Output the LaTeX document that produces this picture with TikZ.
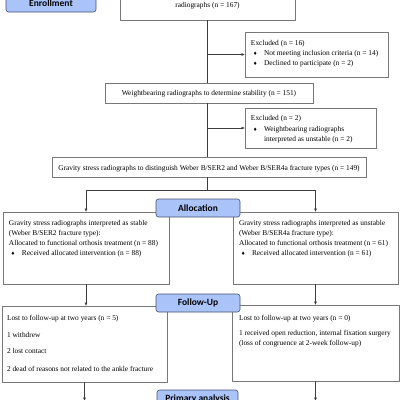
\documentclass[tikz,border=0pt]{standalone}
\usepackage{fontspec}
\setmainfont{Liberation Serif}
\newfontfamily\labfont{Carlito}
\newfontfamily\dvfont{DejaVu Sans}
\usetikzlibrary{arrows.meta}
\definecolor{labfill}{RGB}{170,196,250}
\definecolor{labdraw}{RGB}{70,80,110}
\definecolor{boxdraw}{RGB}{120,120,120}
\definecolor{linecol}{RGB}{60,60,60}
\newcommand{\bul}{{\dvfont\fontsize{4.8}{6}\selectfont\char"2666}}
\begin{document}
\begin{tikzpicture}[x=1pt,y=-1pt,
  boxnode/.style={draw=boxdraw,line width=0.7pt,inner sep=0pt,outer sep=0pt,anchor=north west,fill=white},
  labnode/.style={draw=labdraw,fill=labfill,rounded corners=2.5pt,line width=0.6pt,inner sep=0pt,outer sep=0pt,anchor=north west,font=\labfont\bfseries\fontsize{9.5}{11}\selectfont},
  txt/.style={anchor=base west,inner sep=0pt,outer sep=0pt,font=\fontsize{7.4}{9}\selectfont},
  ctxt/.style={anchor=base,inner sep=0pt,outer sep=0pt,font=\fontsize{7.4}{9}\selectfont},
  bulnode/.style={anchor=base west,inner sep=0pt,outer sep=0pt},
  conn/.style={draw=linecol,line width=0.6pt},
  arr/.style={conn,-{Latex[length=3.5pt,width=3pt]}}]
\useasboundingbox (0,0) rectangle (400,400);
\clip (0,0) rectangle (400,400);
\fill[white] (0,0) rectangle (400,400);
% boxes
\node[boxnode,minimum width=175pt,minimum height=50pt] (top) at (120,-30) {};
\node[boxnode,minimum width=143pt,minimum height=45pt] (ex1) at (245,32) {};
\node[boxnode,minimum width=208pt,minimum height=20pt] (wb) at (105,83) {};
\node[boxnode,minimum width=131pt,minimum height=40pt] (ex2) at (245,108) {};
\node[boxnode,minimum width=314pt,minimum height=20pt] (gs) at (52,157) {};
\node[boxnode,minimum width=166pt,minimum height=72pt] (la) at (3,212) {};
\node[boxnode,minimum width=165pt,minimum height=72pt] (ra) at (233,212) {};
\node[boxnode,minimum width=165pt,minimum height=76pt] (lf) at (2,306) {};
\node[boxnode,minimum width=167pt,minimum height=76pt] (rf) at (232,305) {};
% texts
\node[ctxt] (topt) at (207.5,7) {radiographs (n = 167)};
\node[txt] (ex1a) at (251,45.5) {Excluded (n = 16)};
\node[bulnode] (ex1b1) at (253,55.5) {\bul};
\node[txt] (ex1b) at (264,55.5) {Not meeting inclusion criteria (n = 14)};
\node[bulnode] (ex1c1) at (253,65.5) {\bul};
\node[txt] (ex1c) at (264,65.5) {Declined to participate (n = 2)};
\node[ctxt] (wbt) at (209,95.5) {Weightbearing radiographs to determine stability (n = 151)};
\node[txt] (ex2a) at (251,120.5) {Excluded (n = 2)};
\node[bulnode] (ex2b1) at (253,131.5) {\bul};
\node[txt] (ex2b) at (264,131.5) {Weightbearing radiographs};
\node[txt] (ex2c) at (264,141) {interpreted as unstable (n = 2)};
\node[ctxt] (gst) at (209,170) {Gravity stress radiographs to distinguish Weber B/SER2 and Weber B/SER4a fracture types (n = 149)};
\node[txt] (la1) at (9,225.5) {Gravity stress radiographs interpreted as stable};
\node[txt] (la2) at (9,235) {(Weber B/SER2 fracture type):};
\node[txt] (la3) at (9,245.5) {Allocated to functional orthosis treatment (n = 88)};
\node[bulnode] (la4b) at (11,255.5) {\bul};
\node[txt] (la4) at (22,255.5) {Received allocated intervention (n = 88)};
\node[txt] (ra1) at (239,225.5) {Gravity stress radiographs interpreted as unstable};
\node[txt] (ra2) at (239,235) {(Weber B/SER4a fracture type):};
\node[txt] (ra3) at (239,245.5) {Allocated to functional orthosis treatment (n = 61)};
\node[bulnode] (ra4b) at (241,255.5) {\bul};
\node[txt] (ra4) at (252,255.5) {Received allocated intervention (n = 61)};
\node[txt] (lf1) at (7,320.5) {Lost to follow-up at two years (n = 5)};
\node[txt] (lf2) at (7,337) {1 withdrew};
\node[txt] (lf3) at (7,353.5) {2 lost contact};
\node[txt] (lf4) at (7,371.5) {2 dead of reasons not related to the ankle fracture};
\node[txt] (rf1) at (239,320) {Lost to follow-up at two years (n = 0)};
\node[txt] (rf2) at (239,335) {1 received open reduction, internal fixation surgery};
\node[txt] (rf3) at (239,345) {(loss of congruence at 2-week follow-up)};
% connectors
\draw[conn] (top.south) -- (top.south |- wb.north);
\draw[arr] (top.south |- ex1.west) -- (ex1.west);
\draw[conn] (top.south |- wb.south) -- (top.south |- gs.north);
\draw[arr] (top.south |- ex2.west) -- (ex2.west);
\coordinate (split) at (207.5,190);
\draw[conn] (split |- gs.south) -- (split);
\draw[conn] (split -| la.north) -- (split -| ra.north);
\draw[arr] (split -| la.north) -- (la.north);
\draw[arr] (split -| ra.north) -- (ra.north);
\draw[arr] (la.south) -- (la.south |- lf.north);
\draw[arr] (ra.south) -- (ra.south |- rf.north);
\coordinate (lend) at (84.5,401);
\coordinate (rend) at (315.5,401);
\draw[arr] (lf.south) -- (lend);
\draw[arr] (rf.south) -- (rend);
% labels
\node[labnode,minimum width=90pt,minimum height=18pt] (enr) at (6,-6) {};
\node[inner sep=0pt,font=\labfont\bfseries\fontsize{9.5}{11}\selectfont] (enrt) at (51,3.5) {Enrollment};
\node[labnode,minimum width=84pt,minimum height=18pt] (alloc) at (156,199) {Allocation};
\node[labnode,minimum width=84pt,minimum height=18pt] (fu) at (156,294) {Follow-Up};
\node[labnode,minimum width=81pt,minimum height=18pt] (pa) at (157,390) {Primary analysis};
\end{tikzpicture}
\end{document}
